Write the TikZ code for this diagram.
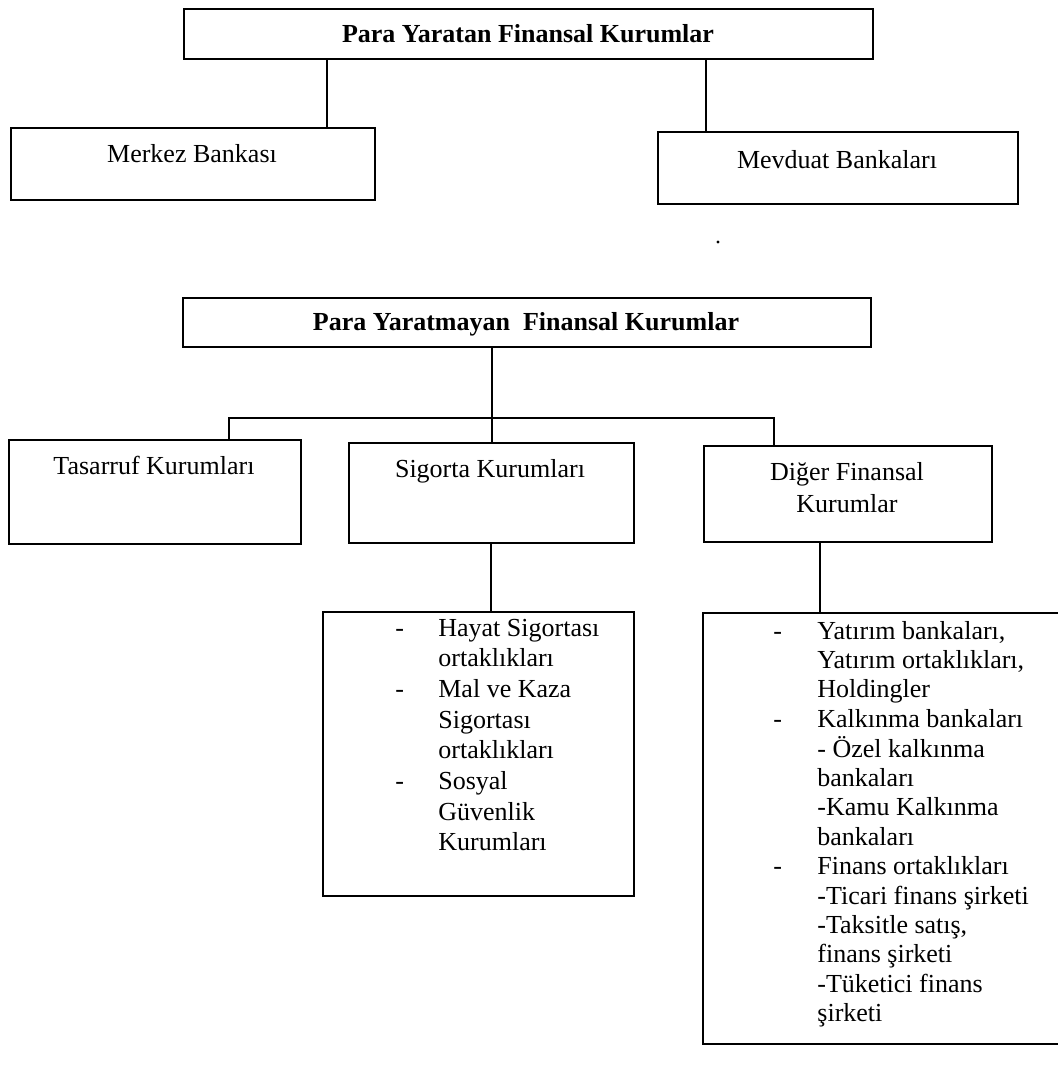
\documentclass[tikz,border=0pt]{standalone}
\usepackage{fontspec}
\setmainfont{Liberation Serif}
\begin{document}
\begin{tikzpicture}[x=0.5pt,y=-0.5pt,
  box/.style={draw, line width=0.9pt, inner sep=0pt, anchor=north west},
  lbl/.style={anchor=base, inner sep=0pt, font=\fontsize{13}{15.2}\selectfont},
  hd/.style={lbl, font=\fontsize{13}{15.2}\selectfont\bfseries},
  conn/.style={line width=0.9pt}]
\useasboundingbox (0,0) rectangle (1058,1071);
\clip (0,0) rectangle (1058,1071);
% boxes
\node[box, minimum width=344.5pt, minimum height=25pt] (top) at (183,8) {};
\node[box, minimum width=182pt, minimum height=36pt] (merkez) at (10,127) {};
\node[box, minimum width=180pt, minimum height=36pt] (mevduat) at (657,131) {};
\node[box, minimum width=344pt, minimum height=24.5pt] (top2) at (182,297) {};
\node[box, minimum width=146pt, minimum height=52pt] (tasarruf) at (8,439) {};
\node[box, minimum width=142.5pt, minimum height=50pt] (sigorta) at (348,442) {};
\node[box, minimum width=144pt, minimum height=48pt] (diger) at (703,445) {};
\node[box, minimum width=155.5pt, minimum height=142pt] (siglist) at (322,611) {};
\node[box, minimum width=181pt, minimum height=215.5pt] (diglist) at (702,612) {};
% connectors
\coordinate (xa) at (327,0);
\coordinate (xb) at (706,0);
\coordinate (xc) at (492,0);
\coordinate (xd) at (491,0);
\coordinate (xe) at (820,0);
\coordinate (hl) at (229,418);
\coordinate (hr) at (774,418);
\draw[conn] (top.south -| xa) -- (merkez.north -| xa);
\draw[conn] (top.south -| xb) -- (mevduat.north -| xb);
\draw[conn] (top2.south -| xc) -- (sigorta.north -| xc);
\draw[conn] (tasarruf.north -| hl) -- (hl) -- (hr) -- (diger.north -| hr);
\draw[conn] (sigorta.south -| xd) -- (siglist.north -| xd);
\draw[conn] (diger.south -| xe) -- (diglist.north -| xe);
% texts
\node[hd] (topT) at (528,42) {Para Yaratan Finansal Kurumlar};
\node[lbl] (merkezT) at (192,162) {Merkez Bankası};
\node[lbl] (mevduatT) at (837,168) {Mevduat Bankaları};
\node[hd] (top2T) at (526,330) {Para Yaratmayan\ \ Finansal Kurumlar};
\node[lbl] (tasarrufT) at (154,474) {Tasarruf Kurumları};
\node[lbl] (sigortaT) at (490,477) {Sigorta Kurumları};
\node[lbl, font=\fontsize{13}{16}\selectfont] (digerT) at (847,480) {\begin{tabular}[t]{@{}c@{}}Diğer Finansal\\Kurumlar\end{tabular}};
\node[lbl, anchor=base west, font=\fontsize{13}{15.35}\selectfont] (siglistT) at (395,636) {\begin{tabular}[t]{@{}p{21.5pt}@{}l@{}}
-&Hayat Sigortası\\
 &ortaklıkları\\
-&Mal ve Kaza\\
 &Sigortası\\
 &ortaklıkları\\
-&Sosyal\\
 &Güvenlik\\
 &Kurumları
\end{tabular}};
\node[lbl, anchor=base west, font=\fontsize{13}{14.7}\selectfont] (diglistT) at (773,639) {\begin{tabular}[t]{@{}p{22pt}@{}l@{}}
-&Yatırım bankaları,\\
 &Yatırım ortaklıkları,\\
 &Holdingler\\
-&Kalkınma bankaları\\
 &- Özel kalkınma\\
 &bankaları\\
 &-Kamu Kalkınma\\
 &bankaları\\
-&Finans ortaklıkları\\
 &-Ticari finans şirketi\\
 &-Taksitle satış,\\
 &finans şirketi\\
 &-Tüketici finans\\
 &şirketi
\end{tabular}};
\fill (718,242) circle[radius=0.8pt];
\end{tikzpicture}
\end{document}
